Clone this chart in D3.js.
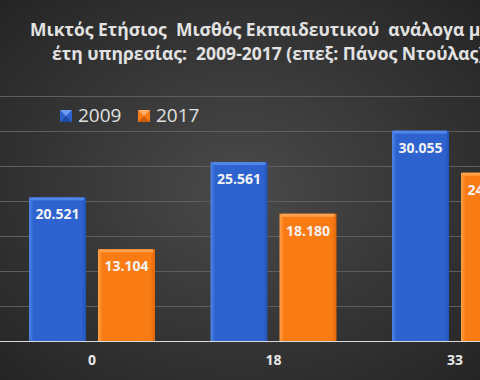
<!DOCTYPE html>
<html><head><meta charset="utf-8">
<script src="https://cdn.jsdelivr.net/npm/d3@7"></script>
<style>html,body{margin:0;padding:0;background:#333;overflow:hidden}</style>
</head><body>
<script>
const categories = ["0", "18", "33"];
const seriesNames = ["2009", "2017"];
const values2009 = [20521, 25561, 30055];
const values2017 = [13104, 18180, 24043];
const yTicks = [0, 5000, 10000, 15000, 20000, 25000, 30000, 35000];
const titleLines = ["Μικτός Ετήσιος  Μισθός Εκπαιδευτικού  ανάλογα με τα", "έτη υπηρεσίας:  2009-2017 (επεξ: Πάνος Ντούλας)"];
const colors = {"2009": ["#4f86e8", "#2d62cf", "#2453b8", "#6b9af0", "#1f4aa6"], "2017": ["#ffa24a", "#f97b14", "#e0680a", "#ffb066", "#d05e05"]};

const W = 480, H = 380;
const svg = d3.select("body").append("svg").attr("width", W).attr("height", H);
const defs = svg.append("defs");
const bg = defs.append("radialGradient").attr("id", "bg").attr("cx", "50%").attr("cy", "50%").attr("r", "75%");
bg.append("stop").attr("offset", "0%").attr("stop-color", "#4a4a4a");
bg.append("stop").attr("offset", "100%").attr("stop-color", "#222");
svg.append("rect").attr("width", W).attr("height", H).attr("fill", "url(#bg)");

seriesNames.forEach(s => {
  const g = defs.append("linearGradient").attr("id", "h" + s).attr("x1", 0).attr("x2", 1).attr("y1", 0).attr("y2", 0);
  g.append("stop").attr("offset", "0%").attr("stop-color", colors[s][0]);
  g.append("stop").attr("offset", "8%").attr("stop-color", colors[s][1]);
  g.append("stop").attr("offset", "92%").attr("stop-color", colors[s][1]);
  g.append("stop").attr("offset", "100%").attr("stop-color", colors[s][2]);
});

const y = d3.scaleLinear().domain([0, 35000]).range([341, 96]);
const x0 = d3.scaleBand().domain(categories).range([1.25, 545.75]).paddingInner(0.306).paddingOuter(0.153);
const x1 = d3.scaleBand().domain(seriesNames).range([0, x0.bandwidth()]).paddingInner(0.174);

// gridlines
svg.append("g").selectAll("line").data(yTicks.slice(1)).join("line")
  .attr("x1", 0).attr("x2", W).attr("y1", d => Math.round(y(d)) + 0.5).attr("y2", d => Math.round(y(d)) + 0.5)
  .attr("stroke", "#5e5e5e").attr("stroke-width", 1);

// title
const t = svg.append("text").attr("font-family", "Open Sans, sans-serif").attr("font-weight", "bold")
  .attr("font-size", 17.5).attr("fill", "#e2e2e2").style("white-space", "pre");
t.append("tspan").attr("x", 30).attr("y", 36).text(titleLines[0]);
t.append("tspan").attr("x", 52).attr("y", 60).text(titleLines[1]);

// bars
const data = categories.map((c, i) => ({cat: c, vals: [{s: "2009", v: values2009[i]}, {s: "2017", v: values2017[i]}]}));
const grp = svg.append("g").selectAll("g").data(data).join("g").attr("transform", d => `translate(${x0(d.cat)},0)`);
const bar = grp.selectAll("g").data(d => d.vals).join("g");
bar.append("rect").attr("x", d => x1(d.s)).attr("y", d => y(d.v)).attr("width", x1.bandwidth())
  .attr("height", d => y(0) - y(d.v)).attr("fill", d => `url(#h${d.s})`);
bar.append("rect").attr("x", d => x1(d.s) + 2).attr("y", d => y(d.v)).attr("width", x1.bandwidth() - 4)
  .attr("height", 3).attr("fill", d => colors[d.s][0]);
bar.append("text").attr("x", d => x1(d.s) + x1.bandwidth() / 2).attr("y", d => y(d.v) + 22)
  .attr("text-anchor", "middle").attr("font-family", "Open Sans, sans-serif").attr("font-weight", "bold")
  .attr("font-size", 14).attr("fill", "#f2f2f2")
  .text(d => d3.format(",.0f")(d.v).replace(",", "."));

// x axis
const xAxis = d3.axisBottom(x0).tickSize(0).tickPadding(14);
const ax = svg.append("g").attr("transform", `translate(0,${y(0)})`).call(xAxis);
ax.select(".domain").remove();
ax.append("line").attr("x1", 0).attr("x2", W).attr("y1", 0.5).attr("y2", 0.5).attr("stroke", "#d9d9d9");
ax.selectAll("text").attr("font-family", "Open Sans, sans-serif").attr("font-weight", "bold")
  .attr("font-size", 14).attr("fill", "#e8e8e8");

// legend
const leg = svg.append("g");
const lx = [60, 138];
seriesNames.forEach((s, i) => {
  const mx = lx[i], my = 110, ms = 12;
  leg.append("rect").attr("x", mx).attr("y", my).attr("width", ms).attr("height", ms).attr("fill", colors[s][1]);
  leg.append("polygon").attr("points", `${mx},${my} ${mx + ms},${my} ${mx + ms / 2},${my + ms / 2}`).attr("fill", colors[s][3]);
  leg.append("polygon").attr("points", `${mx},${my + ms} ${mx + ms},${my + ms} ${mx + ms / 2},${my + ms / 2}`).attr("fill", colors[s][4]);
  leg.append("text").attr("x", mx + 18).attr("y", 122).attr("font-family", "Open Sans, sans-serif")
    .attr("font-size", 19).attr("fill", "#e0e0e0").text(s);
});
</script>
</body></html>
